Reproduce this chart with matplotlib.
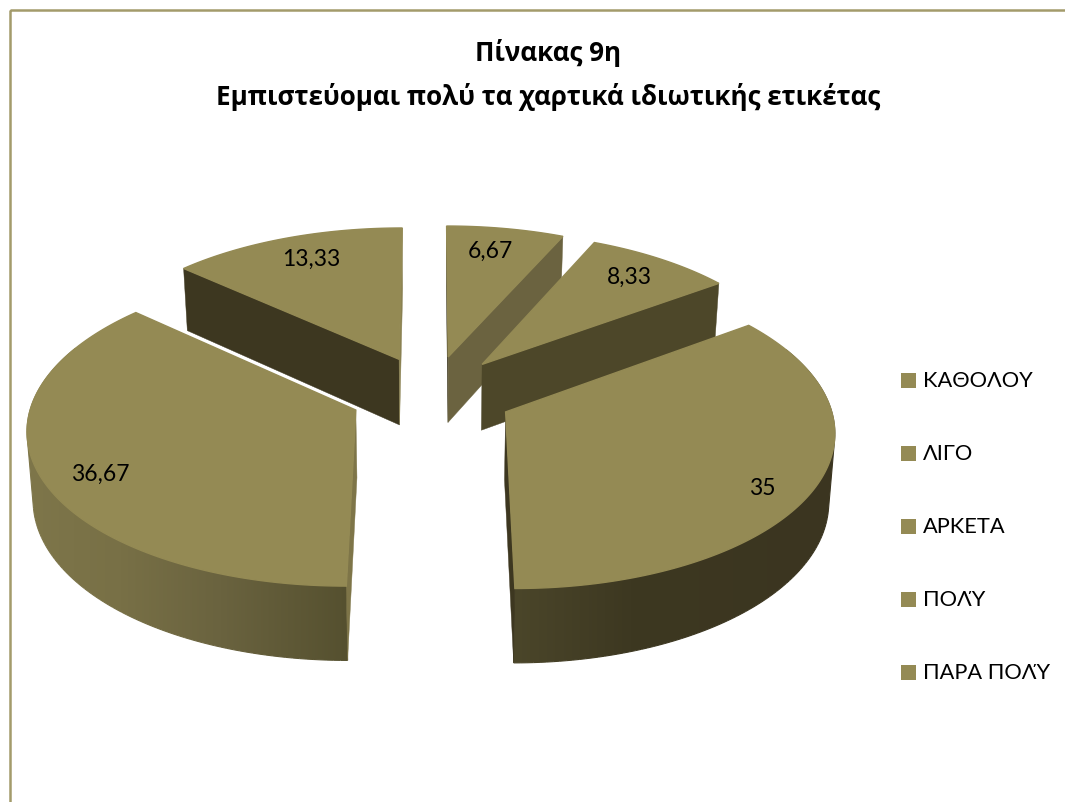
import numpy as np
import matplotlib
matplotlib.use("Agg")
import matplotlib.pyplot as plt
from matplotlib.patches import Polygon, Rectangle
from matplotlib.collections import LineCollection
from matplotlib.colors import to_rgb

categories = ["ΚΑΘΟΛΟΥ", "ΛΙΓΟ", "ΑΡΚΕΤΑ", "ΠΟΛΎ", "ΠΑΡΑ ΠΟΛΎ"]
values = [6.67, 8.33, 35, 36.67, 13.33]
title_lines = ["Πίνακας 9η", "Εμπιστεύομαι πολύ τα χαρτικά ιδιωτικής ετικέτας"]

# pie layout, in pixels of the 1065x803 figure
CX, CY = 431.6, 395
R = 322
EXPLODE = 82
TILT = 0.475
PERSP = 0.11
DEPTH = 67
LABEL_XY = [(490, 251), (629, 277), (762, 489), (100, 474), (311, 259)]

TOP = "#948A54"
DARK = "#3D3720"
FRAME = "#A39B6B"
# radial wall colours (slice start, slice end), None where the wall faces away
WALLS = [(DARK, "#6B6340"), (None, "#4D4729"), (None, DARK), ("#7E7548", None), (DARK, "#8A8152")]
# rim shading runs left to right across the pie
SHADE_X = [27, 120, 220, 348, 513, 630, 835]
SHADE_COL = ["#7E764A", "#787046", "#6A633F", "#55502F", "#4B462A", "#3D3821", "#3B3520"]
shade_rgb = np.array([to_rgb(c) for c in SHADE_COL])


def project(x, y, z=0.0):
    # world x/y on the pie plane, z is the drop below the top face
    s = 1 / (1 + PERSP * y / R)
    return CX + x * s * (1 - 0.015 * z / DEPTH), CY - TILT * y * s + z * s ** 0.8


def shade_at(px):
    return np.column_stack([np.interp(px, SHADE_X, shade_rgb[:, i]) for i in range(3)])


def hull(points):
    # monotone chain, the rim outline folds over itself at the sides otherwise
    pts = sorted(set(points))

    def half(seq):
        out = []
        for p in seq:
            while len(out) > 1 and ((out[-1][0] - out[-2][0]) * (p[1] - out[-2][1])
                                    - (out[-1][1] - out[-2][1]) * (p[0] - out[-2][0])) <= 0:
                out.pop()
            out.append(p)
        return out[:-1]

    return half(pts) + half(pts[::-1])


fig = plt.figure(figsize=(10.65, 8.03), dpi=100)
ax = fig.add_axes([0, 0, 1, 1])
ax.set_xlim(0, 1065)
ax.set_ylim(803, 0)
ax.axis("off")

ax.add_patch(Rectangle((10, 11), 1060, 800, fill=False, ec=FRAME, lw=1.8))

fractions = np.array(values) / sum(values) * 360
starts = np.concatenate([[0], np.cumsum(fractions)[:-1]])
# back slices first so the front ones sit over them
order = [0, 4, 1, 3, 2]
gradient = shade_at(np.arange(1065))[np.newaxis, :, :]
z = 2

for i in order:
    a0, a1 = starts[i], starts[i] + fractions[i]
    mid = np.radians((a0 + a1) / 2)
    ox, oy = EXPLODE * np.sin(mid), EXPLODE * np.cos(mid)
    ang = np.linspace(a0, a1, 121)
    rx = ox + R * np.sin(np.radians(ang))
    ry = oy + R * np.cos(np.radians(ang))

    # outer wall, only the part turned towards the viewer
    front = (ang > 65) & (ang < 295)
    if front.sum() > 1:
        upper = [project(x, y) for x, y in zip(rx[front], ry[front])]
        lower = [project(x, y, DEPTH) for x, y in zip(rx[front], ry[front])]
        outline = hull([(float(a), float(b)) for a, b in upper + lower])
        clip = Polygon(outline, transform=ax.transData)
        im = ax.imshow(gradient, extent=(0, 1065, 803, 0), aspect="auto", zorder=z)
        im.set_clip_path(clip)
        # soften the clipped edge
        edge_pts = np.array(outline + outline[:1])
        segs = np.stack([edge_pts[:-1], edge_pts[1:]], axis=1)
        ax.add_collection(LineCollection(segs, colors=shade_at(edge_pts[:-1, 0]), lw=0.8, zorder=z))
    z += 1

    # radial walls
    for edge, col in zip([0, -1], WALLS[i]):
        if col is None:
            continue
        p = [project(ox, oy), project(rx[edge], ry[edge]),
             project(rx[edge], ry[edge], DEPTH), project(ox, oy, DEPTH)]
        ax.add_patch(Polygon(p, fc=col, ec=col, lw=0.3, zorder=z))
        z += 1

    top = [project(ox, oy)] + [project(x, y) for x, y in zip(rx, ry)]
    ax.add_patch(Polygon(top, fc=TOP, ec=TOP, lw=1.0, zorder=z))
    z += 1

ax.set_xlim(0, 1065)
ax.set_ylim(803, 0)

label_font = ["Lato", "Open Sans"]
for v, (lx, ly) in zip(values, LABEL_XY):
    ax.text(lx, ly, f"{v:g}".replace(".", ","), ha="center", va="center",
            fontsize=16.5, family=label_font, color="black", zorder=50)

for k, name in enumerate(categories):
    y = 381.5 + 73 * k
    ax.add_patch(Rectangle((901, y - 7.5), 15, 15, fc=TOP, ec="none", zorder=50))
    ax.text(923, y, name, ha="left", va="center", fontsize=15.7, family=label_font,
            color="black", zorder=50)

ax.text(548, 53, title_lines[0], ha="center", va="center", fontsize=18.7, fontweight="bold",
        family="Open Sans", color="black", zorder=50)
ax.text(548, 97, title_lines[1], ha="center", va="center", fontsize=18.7, fontweight="bold",
        family="Open Sans", color="black", zorder=50)

fig.savefig("out.png", dpi=100)
